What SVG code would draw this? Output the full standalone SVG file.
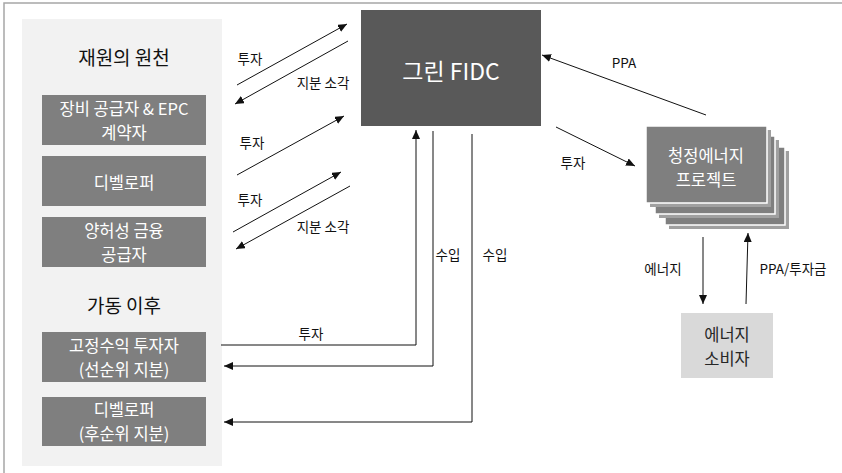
<svg xmlns="http://www.w3.org/2000/svg" width="842" height="473" viewBox="0 0 842 473">
<style>
text{font-family:"Noto Sans CJK KR","Noto Sans",sans-serif;text-anchor:middle;dominant-baseline:central}
.ttl{font-size:19px;fill:#111}
.box{fill:#7f7f7f}
.bt{font-size:16.5px;fill:#fff}
.pt{font-size:16.5px;fill:#fff}
.ct{font-size:16.5px;fill:#262626}
.lbl{font-size:13.5px;fill:#111}
.ln{fill:none;stroke:#111;stroke-width:1}
.pj{fill:#7f7f7f;stroke:#fff;stroke-width:1.5}
.sh{fill:#a0a0a0}
</style>
<defs>
<marker id="ah" markerUnits="userSpaceOnUse" markerWidth="10" markerHeight="8" refX="9" refY="4" orient="auto">
<path d="M0,0 L9,4 L0,8 Z" fill="#111"/>
</marker>
</defs>
<g id="frame">
<path d="M4,473 V3 H842" fill="none" stroke="#a6a6a6" stroke-width="1.5"/>
</g>
<g id="panel">
<rect x="22" y="19" width="200" height="447" fill="#f2f2f2"/>
<text class="ttl" x="124" y="56">재원의 원천</text>
<text class="ttl" x="124" y="304">가동 이후</text>
</g>
<g id="n-equip">
<rect class="box" x="42" y="95" width="164" height="50"/>
<text class="bt" x="124" y="108">장비 공급자 &amp; EPC</text>
<text class="bt" x="124" y="132">계약자</text>
</g>
<g id="n-dev">
<rect class="box" x="42" y="156" width="164" height="50"/>
<text class="bt" x="124" y="182">디벨로퍼</text>
</g>
<g id="n-conc">
<rect class="box" x="42" y="217" width="164" height="50"/>
<text class="bt" x="124" y="230">양허성 금융</text>
<text class="bt" x="124" y="254">공급자</text>
</g>
<g id="n-fixed">
<rect class="box" x="42" y="332" width="164" height="50"/>
<text class="bt" x="124" y="345">고정수익 투자자</text>
<text class="bt" x="124" y="369">(선순위 지분)</text>
</g>
<g id="n-dev2">
<rect class="box" x="42" y="397" width="164" height="49"/>
<text class="bt" x="124" y="409">디벨로퍼</text>
<text class="bt" x="124" y="433">(후순위 지분)</text>
</g>
<g id="n-fidc">
<rect x="361" y="10" width="180" height="116" fill="#595959"/>
<text x="451" y="70" font-size="23" fill="#fff">그린 FIDC</text>
</g>
<g id="n-project">
<rect class="sh" x="669" y="151" width="120" height="78"/>
<rect class="pj" x="665" y="147" width="120" height="78"/>
<rect class="sh" x="659" y="140" width="120" height="78"/>
<rect class="pj" x="655" y="136" width="120" height="78"/>
<rect class="sh" x="650" y="130" width="121" height="77"/>
<rect class="pj" x="646" y="126" width="121" height="77"/>
<text class="pt" x="706" y="155">청정에너지</text>
<text class="pt" x="706" y="179">프로젝트</text>
</g>
<g id="n-consumer">
<rect x="681" y="313" width="92" height="65" fill="#d9d9d9"/>
<text class="ct" x="727" y="334">에너지</text>
<text class="ct" x="727" y="358">소비자</text>
</g>
<g id="connectors">
<line class="ln" x1="237" y1="85" x2="347" y2="24" marker-end="url(#ah)"/>
<line class="ln" x1="348" y1="41" x2="235" y2="104" marker-end="url(#ah)"/>
<line class="ln" x1="237" y1="175" x2="344" y2="116" marker-end="url(#ah)"/>
<line class="ln" x1="233" y1="232" x2="341" y2="172" marker-end="url(#ah)"/>
<line class="ln" x1="350" y1="186" x2="236" y2="249" marker-end="url(#ah)"/>
<polyline class="ln" points="221,345 416,345 416,130" marker-end="url(#ah)"/>
<polyline class="ln" points="433,131 433,366 224,366" marker-end="url(#ah)" stroke="#333"/>
<polyline class="ln" points="472,134 472,422 224,422" marker-end="url(#ah)" stroke="#555"/>
<line class="ln" x1="706" y1="115" x2="542" y2="55" marker-end="url(#ah)"/>
<line class="ln" x1="556" y1="127" x2="635" y2="166" marker-end="url(#ah)"/>
<line class="ln" x1="703" y1="237" x2="703" y2="304" marker-end="url(#ah)"/>
<line class="ln" x1="746" y1="304" x2="748" y2="233" marker-end="url(#ah)"/>
<text class="lbl" x="250" y="58">투자</text>
<text class="lbl" x="323" y="82">지분 소각</text>
<text class="lbl" x="252" y="142">투자</text>
<text class="lbl" x="250" y="199">투자</text>
<text class="lbl" x="323" y="226">지분 소각</text>
<text class="lbl" x="311" y="333">투자</text>
<text class="lbl" x="448" y="254">수입</text>
<text class="lbl" x="495" y="254">수입</text>
<text class="lbl" x="624" y="62">PPA</text>
<text class="lbl" x="573" y="162">투자</text>
<text class="lbl" x="663" y="268">에너지</text>
<text class="lbl" x="793" y="268">PPA/투자금</text>
</g>
</svg>
